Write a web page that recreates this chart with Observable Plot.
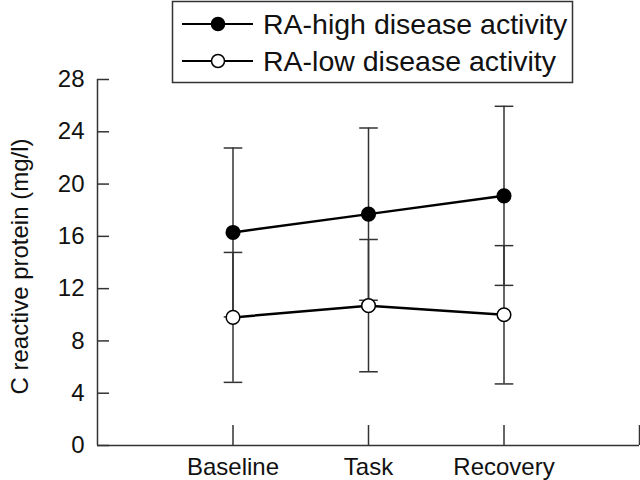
<!DOCTYPE html>
<html>
<head>
<meta charset="utf-8">
<script src="https://cdn.jsdelivr.net/npm/d3@7"></script>
<script src="https://cdn.jsdelivr.net/npm/@observablehq/plot@0.6"></script>
<style>
  body { margin: 0; background: #fff; }
  #wrap { position: relative; width: 640px; height: 480px; font-family: "Liberation Sans", Arial, Helvetica, sans-serif; }
  #legend { position: absolute; left: 0; top: 0; pointer-events: none; }
</style>
</head>
<body>
<div id="wrap"></div>
<script>
// ---- data ----
const phases = ["Baseline", "Task", "Recovery"];
const seriesNames = ["RA-high disease activity", "RA-low disease activity"];
const highMean = [16.3, 17.7, 19.1];
const highSD = [6.46, 6.59, 6.85];
const lowMean = [9.8, 10.7, 10.0];
const lowSD = [4.97, 5.06, 5.29];
const yTicks = [0, 4, 8, 12, 16, 20, 24, 28];
const xTicks = [1, 2, 3, 4];
const yLabel = "C reactive protein (mg/l)";
const seriesFill = ["#000", "#fff"];

// ---- build table ----
const rows = [];
[[highMean, highSD], [lowMean, lowSD]].forEach(([m, s], k) => {
  m.forEach((v, i) => rows.push({series: seriesNames[k], pos: i + 1, mean: v, lo: v - s[i], hi: v + s[i]}));
});
const caps = rows.flatMap(d => [{pos: d.pos, v: d.lo}, {pos: d.pos, v: d.hi}]);

const capSymbol = {draw(ctx, size) { const w = Math.sqrt(size / Math.PI); ctx.moveTo(-w, 0); ctx.lineTo(w, 0); }};
const axisColor = "#333";
const font = '"Liberation Sans", Arial, Helvetica, sans-serif';

const W = 640, H = 480, mT = 79, mB = 35, mL = 97, mR = 1;
const frameW = W - mL - mR, frameH = H - mT - mB;
const xTickLen = 20, yTickLen = 12;

const chart = Plot.plot({
  width: W, height: H,
  marginTop: mT, marginBottom: mB, marginLeft: mL, marginRight: mR,
  style: {fontFamily: font, fontSize: "24px", color: "#111", background: "white"},
  x: {domain: [0, 4]},
  y: {domain: [0, 28]},
  color: {domain: seriesNames, range: seriesFill},
  marks: [
    Plot.ruleX(rows, {x: "pos", y1: "lo", y2: "hi", stroke: axisColor, strokeWidth: 1.5}),
    Plot.dot(caps, {x: "pos", y: "v", symbol: capSymbol, r: 9.3, stroke: axisColor, strokeWidth: 1.5, fill: "none"}),
    Plot.line(rows, {x: "pos", y: "mean", z: "series", stroke: "#000", strokeWidth: 2.5}),
    Plot.dot(rows, {x: "pos", y: "mean", r: 6.8, fill: "series", stroke: "#000", strokeWidth: 1.5}),
    // axis lines and inward ticks
    Plot.ruleY([0], {stroke: axisColor, strokeWidth: 1.5}),
    Plot.ruleX([0], {y1: 0, y2: 28, stroke: axisColor, strokeWidth: 1.5}),
    Plot.tickX(xTicks, {x: d => d, insetTop: frameH - xTickLen, stroke: axisColor, strokeWidth: 1.5}),
    Plot.tickY(yTicks, {y: d => d, insetRight: frameW - yTickLen, stroke: axisColor, strokeWidth: 1.5}),
    Plot.axisY({ticks: yTicks, tickSize: 0, tickPadding: 13, label: null, fontSize: 24}),
    Plot.axisX({ticks: xTicks, tickFormat: d => phases[d - 1] ?? "", tickSize: 0, tickPadding: 12, label: null, fontSize: 24}),
    Plot.text([yLabel], {frameAnchor: "left", textAnchor: "middle", rotate: -90, dx: -77, dy: 4, fontSize: 24, fill: "#111"})
  ]
});
document.getElementById("wrap").appendChild(chart);

// ---- legend ----
const lg = d3.select("#wrap").append("svg").attr("id", "legend").attr("width", 640).attr("height", 90);
lg.append("rect").attr("x", 172.5).attr("y", 1.5).attr("width", 400).attr("height", 81)
  .attr("fill", "#fff").attr("stroke", axisColor).attr("stroke-width", 1.5);
const rowY = [24, 61];
seriesNames.forEach((name, i) => {
  const g = lg.append("g").attr("transform", `translate(0,${rowY[i]})`);
  g.append("line").attr("x1", 182).attr("x2", 253).attr("stroke", "#000").attr("stroke-width", 2);
  g.append("circle").attr("cx", 218).attr("r", 6.5).attr("fill", seriesFill[i]).attr("stroke", "#000").attr("stroke-width", 1.5);
  g.append("text").attr("x", 263).attr("y", 10).attr("font-family", font).attr("font-size", 28.5).attr("fill", "#111").text(name);
});
</script>
</body>
</html>
